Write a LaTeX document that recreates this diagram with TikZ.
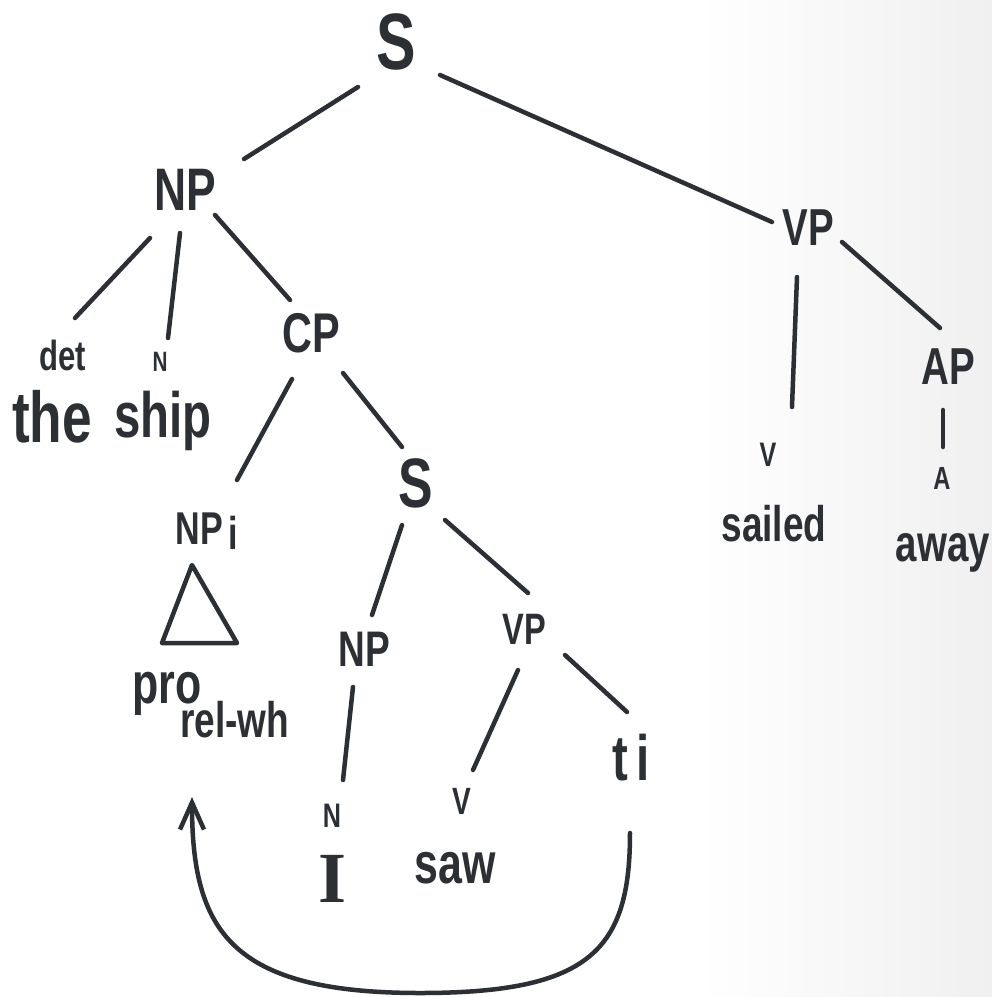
\documentclass[tikz,border=0pt]{standalone}
\usepackage{fontspec}
\setmainfont[FakeStretch=0.74]{Liberation Sans}
\newfontfamily\serifI{Liberation Serif}
\usetikzlibrary{arrows.meta}
\definecolor{ink}{RGB}{44,47,52}
\newcommand\fsz[1]{\fontsize{#1}{#1}\selectfont\bfseries}
\begin{document}
\begin{tikzpicture}[x=1pt,y=-1pt,
  lbl/.style={inner sep=0pt,text=ink},
  link/.style={draw=ink,line width=4.5pt,line cap=round,line join=round},
  move/.style={link,-{Straight Barb[length=27pt,width=24pt]}}]
\useasboundingbox (0,0) rectangle (992,997);
\fill[white] (0,0) rectangle (992,997);
\fill[left color=white,right color=black!6] (700,0) rectangle (992,997);

% labels of the tree
\node[lbl,font=\fsz{80}] (s0) at (396,42) {S};
\node[lbl,font=\fsz{60}] (np1) at (185,190) {NP};
\node[lbl,font=\fsz{52}] (vp1) at (808,228) {VP};
\node[lbl,font=\fsz{42}] (det) at (63,355) {det};
\node[lbl,font=\fsz{28}] (n1) at (160,362) {N};
\node[lbl,font=\fsz{72}] (the) at (52,417) {the};
\node[lbl,font=\fsz{64}] (ship) at (163,421) {ship};
\node[lbl,font=\fsz{56}] (cp) at (311,333) {CP};
\node[lbl,font=\fsz{46}] (npi) at (207,531) {NP\hspace{6pt}\raisebox{-5pt}{i}};
\node[lbl,font=\fsz{58},anchor=base west] (pro) at (132,703) {pro};
\node[lbl,font=\fsz{50},anchor=base west] (relwh) at (180,737) {rel-wh};
\node[lbl,font=\fsz{70}] (s2) at (416,483) {S};
\node[lbl,font=\fsz{50}] (np2) at (364,649) {NP};
\node[lbl,font=\fsz{44}] (vp2) at (524,629) {VP};
\node[lbl,font=\fsz{34}] (n2) at (332,816) {N};
\node[lbl,font=\fsz{72}\serifI] (i) at (333,879) {I};
\node[lbl,font=\fsz{38}] (v2) at (462,801) {V};
\node[lbl,font=\fsz{58}] (saw) at (455,868) {saw};
\node[lbl,font=\fsz{64}] (ti) at (631,758) {t\hspace{8pt}i};
\node[lbl,font=\fsz{34}] (v3) at (768,455) {V};
\node[lbl,font=\fsz{50}] (sailed) at (774,524) {sailed};
\node[lbl,font=\fsz{52}] (ap) at (948,367) {AP};
\node[lbl,font=\fsz{32}] (a) at (942,478) {A};
\node[lbl,font=\fsz{52}] (away) at (943,553) {away};

% branches
\draw[link] ([shift={(-38,45)}]s0.center) -- ([shift={(59,-31)}]np1.center);
\draw[link] ([shift={(44,33)}]s0.center) -- ([shift={(-36,-6)}]vp1.center);
\draw[link] ([shift={(-35,48)}]np1.center) -- ([shift={(12,-37)}]det.center);
\draw[link] ([shift={(-5,43)}]np1.center) -- ([shift={(8,-24)}]n1.center);
\draw[link] ([shift={(30,25)}]np1.center) -- ([shift={(-21,-33)}]cp.center);
\draw[link] ([shift={(-19,46)}]cp.center) -- ([shift={(30,-51)}]npi.center);
\draw[link] ([shift={(32,40)}]cp.center) -- ([shift={(-14,-36)}]s2.center);
\draw[link] ([shift={(-14,42)}]s2.center) -- ([shift={(8,-34)}]np2.center);
\draw[link] ([shift={(29,37)}]s2.center) -- ([shift={(4,-36)}]vp2.center);
\draw[link] ([shift={(-11,38)}]np2.center) -- ([shift={(11,-36)}]n2.center);
\draw[link] ([shift={(-6,41)}]vp2.center) -- ([shift={(11,-31)}]v2.center);
\draw[link] ([shift={(41,26)}]vp2.center) -- ([shift={(-4,-46)}]ti.center);
\draw[link] ([shift={(-11,49)}]vp1.center) -- ([shift={(24,-48)}]v3.center);
\draw[link] ([shift={(34,14)}]vp1.center) -- ([shift={(-8,-39)}]ap.center);
\draw[link] ([shift={(-5,43)}]ap.center) -- ([shift={(1,-31)}]a.center);

% collapsed NP
\draw[link] (192,565) -- (162,643) -- (237,643) -- cycle;

% movement arrow from the trace back to the relative pronoun
\coordinate (base) at (420,993);
\draw[move] ([shift={(-1,75)}]ti.center)
  .. controls ([shift={(-1,192)}]ti.center) and ([shift={(170,0)}]base) .. (base)
  .. controls ([shift={(-190,0)}]base) and ([shift={(60,227)}]pro.base west)
  .. ([shift={(60,94)}]pro.base west);
\end{tikzpicture}
\end{document}
